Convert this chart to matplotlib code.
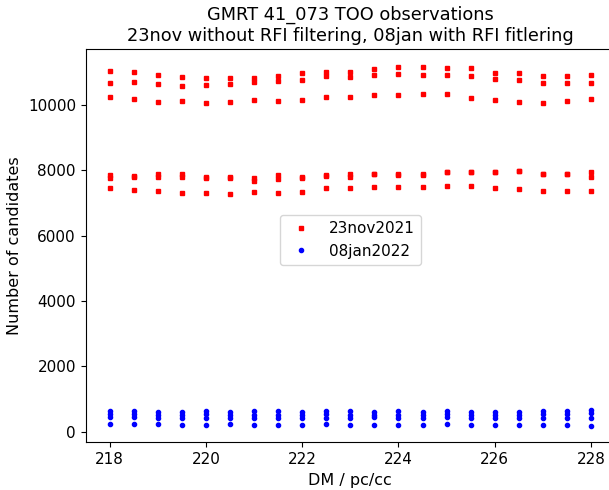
import numpy as np
import matplotlib
matplotlib.use('Agg')
import matplotlib.pyplot as plt

# DM values (pc/cc)
dm = [218.0, 218.5, 219.0, 219.5, 220.0, 220.5, 221.0, 221.5, 222.0, 222.5, 223.0,
      223.5, 224.0, 224.5, 225.0, 225.5, 226.0, 226.5, 227.0, 227.5, 228.0]

# 23nov2021 : number of candidates, several runs per DM
nov_top1 = [11041, 11001, 10928, 10866, 10817, 10817, 10836, 10888, 10970, 11019, 11019,
            11093, 11172, 11154, 11123, 11123, 10989, 10970, 10878, 10888, 10909]
nov_top2 = [10683, 10704, 10652, 10591, 10621, 10634, 10713, 10744, 10765, 10878, 10866,
            10928, 10949, 10918, 10918, 10888, 10796, 10765, 10664, 10673, 10683]
nov_top3 = [10254, 10184, 10101, 10113, 10052, 10092, 10144, 10132, 10144, 10245, 10254,
            10306, 10297, 10346, 10337, 10205, 10153, 10083, 10070, 10122, 10184]
nov_mid1 = [7857, 7840, 7888, 7888, 7810, 7790, 7775, 7867, 7790, 7845, 7888,
            7895, 7885, 7875, 7945, 7945, 7962, 7975, 7895, 7900, 7949]
nov_mid2 = [7756, 7805, 7796, 7787, 7780, 7765, 7674, 7726, 7765, 7830, 7787,
            7880, 7872, 7860, 7935, 7935, 7952, 7965, 7880, 7892, 7787]
nov_mid3 = [7460, 7398, 7368, 7297, 7316, 7285, 7328, 7316, 7337, 7469, 7469,
            7499, 7499, 7490, 7521, 7530, 7469, 7429, 7377, 7377, 7368]

# 08jan2022 : number of candidates after RFI filtering
jan_1 = [640, 645, 610, 610, 635, 610, 635, 635, 612, 634, 634,
         594, 634, 612, 634, 612, 594, 612, 643, 643, 664]
jan_2 = [540, 545, 510, 520, 530, 520, 520, 520, 510, 530, 520,
         510, 520, 510, 540, 510, 500, 510, 540, 540, 560]
jan_3 = [450, 450, 430, 430, 410, 430, 410, 410, 410, 429, 410,
         459, 429, 410, 459, 410, 410, 410, 429, 429, 410]
jan_4 = [225, 225, 225, 205, 205, 225, 205, 205, 205, 226, 205,
         205, 205, 205, 236, 205, 205, 205, 205, 205, 184]

fig = plt.figure(figsize=(6.09, 4.90), dpi=100)
ax = fig.add_axes([85.7/609, 47.7/490, 529.3/609, 393.3/490])

nov = [nov_top1, nov_top2, nov_top3, nov_mid1, nov_mid2, nov_mid3]
jan = [jan_1, jan_2, jan_3, jan_4]

x_nov = np.concatenate([dm for k in nov])
y_nov = np.concatenate(nov)
x_jan = np.concatenate([dm for k in jan])
y_jan = np.concatenate(jan)

ax.plot(x_nov, y_nov, 'rs', markersize=3.2, label='23nov2021')
ax.plot(x_jan, y_jan, 'b.', markersize=6, label='08jan2022')

ax.set_xlim(217.5, 228.5)
ax.set_ylim(-325, 11715)
ax.set_xticks([218, 220, 222, 224, 226, 228])
ax.set_yticks([0, 2000, 4000, 6000, 8000, 10000])
ax.tick_params(labelsize=11)

ax.set_title('GMRT 41_073 TOO observations\n23nov without RFI filtering, 08jan with RFI fitlering',
             fontsize=12.8)
ax.set_xlabel('DM / pc/cc', fontsize=11.5)
ax.set_ylabel('Number of candidates', fontsize=11.5)
ax.legend(loc='center', bbox_to_anchor=(0.5, 0.515), fontsize=11)

fig.savefig('out.png', dpi=100)
